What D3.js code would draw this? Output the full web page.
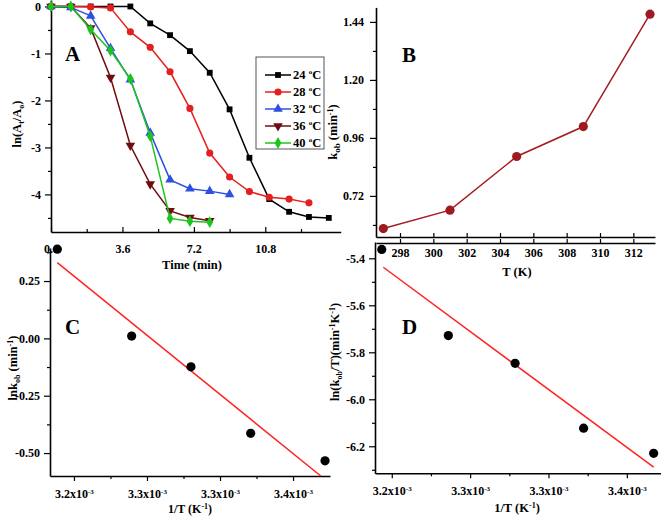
<!DOCTYPE html>
<html><head><meta charset="utf-8">
<script src="https://cdn.jsdelivr.net/npm/d3@7"></script>
<style>
html,body{margin:0;padding:0;background:#fff;}
svg{display:block;font-family:"Liberation Serif","Times New Roman",serif;font-weight:bold;}
</style></head>
<body>
<svg id="c" width="661" height="518"></svg>
<script>
// ---------- DATA ----------
// Panel A: ln(At/Ao) vs time (min)
const legendA = ["24", "28", "32", "36", "40"];
const timeA = [0,1,2,3,4,5,6,7,8,9,10,11,12,13,14];
const s24 = [0,0,0,0,0,-0.36,-0.61,-0.95,-1.41,-2.19,-3.22,-4.10,-4.37,-4.48,-4.50];
const s28 = [0,0,-0.01,-0.03,-0.54,-0.87,-1.39,-2.17,-3.12,-3.63,-3.94,-4.06,-4.10,-4.18];
const s32 = [0,-0.02,-0.20,-0.89,-1.56,-2.69,-3.69,-3.88,-3.93,-4.00];
const s36 = [0,0,-0.46,-1.51,-2.96,-3.78,-4.35,-4.49,-4.56];
const s40 = [0,0,-0.49,-0.94,-1.54,-2.76,-4.51,-4.57,-4.59];
const ticksAx = [0, 3.6, 7.2, 10.8];
const labelsAx = ["0.0", "3.6", "7.2", "10.8"];
const ticksAy = [0, -1, -2, -3, -4];
const labelsAy = ["0", "-1", "-2", "-3", "-4"];

// Panel B: kob vs T
const tempB = [297, 301, 305, 309, 313];
const kobB = [0.585, 0.661, 0.883, 1.007, 1.472];
const ticksBx = [298, 300, 302, 304, 306, 308, 310, 312];
const ticksBy = [0.72, 0.96, 1.20, 1.44];
const labelsBy = ["0.72", "0.96", "1.20", "1.44"];

// Panel C: ln kob vs 1/T (x in units of 1e-3)
const invTC = [3.1886, 3.2395, 3.2801, 3.3210, 3.3719];
const lnkC = [0.389, 0.010, -0.124, -0.414, -0.534];
const fitCx = [3.1886, 3.369];
const fitCy = [0.33, -0.60];
const ticksCy = [0.25, 0, -0.25, -0.5];
const labelsCy = ["0.25", "0.00", "-0.25", "-0.50"];

// Panel D: ln(kob/T) vs 1/T
const invTD = [3.1936, 3.2361, 3.2787, 3.3224, 3.3671];
const lnkTD = [-5.362, -5.729, -5.847, -6.123, -6.230];
const fitDx = [3.1946, 3.3671];
const fitDy = [-5.438, -6.289];
const ticksDy = [-5.4, -5.6, -5.8, -6.0, -6.2];
const labelsDy = ["-5.4", "-5.6", "-5.8", "-6.0", "-6.2"];

// shared 1/T ticks
const ticksInv = [3.20, 3.25, 3.30, 3.35];
const labelsInv = ["3.2", "3.3", "3.3", "3.4"];

// ---------- DRAW ----------
const svg = d3.select("#c");
const FS = 12;

function styleAxis(g){
  g.selectAll(".domain").attr("stroke","#000").attr("stroke-width",1.6);
  g.selectAll(".tick line").attr("stroke","#000").attr("stroke-width",1.2);
  g.selectAll("text").attr("font-family",'"Liberation Serif",serif').attr("font-weight","bold").attr("font-size",FS).attr("fill","#000");
}
function minorTicks(major){
  const out=[];
  for(let i=0;i<major.length-1;i++) out.push((major[i]+major[i+1])/2);
  return out;
}
function supLabel(sel, labels){
  sel.selectAll(".tick text").each(function(d,i){
    const t=d3.select(this); t.text(null);
    t.append("tspan").text(labels[i]+"x10");
    t.append("tspan").attr("dy",-4).attr("font-size",7).text("-3");
  });
}

// ===== Panel A =====
const xA = d3.scaleLinear().domain([0,14.6]).range([51,340.7]);
const yA = d3.scaleLinear().domain([-4.8,0.138]).range([232,0]);
{
  const g = svg.append("g");
  const ya = g.append("g").attr("transform",`translate(${xA.range()[0]},0)`)
    .call(d3.axisLeft(yA).tickValues(ticksAy).tickFormat((d,i)=>labelsAy[i]).tickSizeInner(6).tickSizeOuter(0).tickPadding(4));
  styleAxis(ya);
  const minorAy = [-0.5,-1.5,-2.5,-3.5,-4.5];
  const yam2 = g.append("g").attr("transform",`translate(${xA.range()[0]},0)`)
    .call(d3.axisLeft(yA).tickValues(minorAy).tickFormat("").tickSizeInner(3).tickSizeOuter(0));
  styleAxis(yam2); yam2.select(".domain").remove();
  const xa = g.append("g").attr("transform",`translate(0,${yA.range()[0]})`)
    .call(d3.axisBottom(xA).tickValues(ticksAx).tickFormat((d,i)=>labelsAx[i]).tickSizeInner(-5).tickSizeOuter(0).tickPadding(12));
  styleAxis(xa);
  const xam = g.append("g").attr("transform",`translate(0,${yA.range()[0]})`)
    .call(d3.axisBottom(xA).tickValues(minorTicks(ticksAx.concat([14.4]))).tickFormat("").tickSizeInner(-3).tickSizeOuter(0));
  styleAxis(xam); xam.select(".domain").remove();

  const series = [
    {v:s24,color:"#000000",sym:d3.symbolSquare,size:34},
    {v:s28,color:"#e41f1f",sym:d3.symbolCircle,size:40},
    {v:s32,color:"#2e50e0",sym:d3.symbolTriangle,size:40},
    {v:s36,color:"#6e0c12",sym:d3.symbolTriangle,size:40,rot:180},
    {v:s40,color:"#1ec41e",sym:d3.symbolDiamond,size:40}
  ];
  const line = d3.line().x((d,i)=>xA(timeA[i])).y(d=>yA(d));
  series.forEach(s=>{
    g.append("path").attr("d",line(s.v)).attr("fill","none").attr("stroke",s.color).attr("stroke-width",1.5);
    g.selectAll(null).data(s.v).enter().append("path")
      .attr("d",d3.symbol().type(s.sym).size(s.size))
      .attr("transform",(d,i)=>`translate(${xA(timeA[i])},${yA(d)}) rotate(${s.rot||0})`)
      .attr("fill",s.color);
  });
  const lg = g.append("g");
  lg.append("rect").attr("x",256).attr("y",57).attr("width",68).attr("height",92)
    .attr("fill","#fff").attr("stroke","#555").attr("stroke-width",1);
  series.forEach((s,i)=>{
    const yy = 75 + i*17;
    lg.append("line").attr("x1",265).attr("x2",291).attr("y1",yy).attr("y2",yy).attr("stroke",s.color).attr("stroke-width",1.5);
    lg.append("path").attr("d",d3.symbol().type(s.sym).size(s.size)).attr("transform",`translate(278,${yy}) rotate(${s.rot||0})`).attr("fill",s.color);
    const t = lg.append("text").attr("x",293).attr("y",yy+4).attr("font-size",12.5);
    t.append("tspan").text(legendA[i]+" ");
    t.append("tspan").attr("dy",-5).attr("font-size",7).text("o");
    t.append("tspan").attr("dy",5).text("C");
  });
  g.append("text").attr("x",65).attr("y",61).attr("font-size",21).text("A");
  const yl = g.append("text").attr("transform","translate(21,124) rotate(-90)").attr("text-anchor","middle").attr("font-size",12.5);
  yl.append("tspan").text("ln(A");
  yl.append("tspan").attr("dy",3).attr("font-size",8).text("t");
  yl.append("tspan").attr("dy",-3).text("/A");
  yl.append("tspan").attr("dy",3).attr("font-size",8).text("o");
  yl.append("tspan").attr("dy",-3).text(")");
  g.append("text").attr("x",192).attr("y",269).attr("text-anchor","middle").attr("font-size",12.5).text("Time (min)");
}

// ===== Panel B =====
const xB = d3.scaleLinear().domain([296.56,313.3]).range([376,655]);
const yB = d3.scaleLinear().domain([0.55,1.5]).range([237,7.4]);
{
  const g = svg.append("g");
  const ya = g.append("g").attr("transform",`translate(376,0)`)
    .call(d3.axisLeft(yB).tickValues(ticksBy).tickFormat((d,i)=>labelsBy[i]).tickSizeInner(6).tickSizeOuter(0).tickPadding(6));
  styleAxis(ya);
  const yam = g.append("g").attr("transform",`translate(376,0)`)
    .call(d3.axisLeft(yB).tickValues([0.60,0.84,1.08,1.32]).tickFormat("").tickSizeInner(3).tickSizeOuter(0));
  styleAxis(yam); yam.select(".domain").remove();
  const xf = g.append("g").attr("transform",`translate(0,237)`)
    .call(d3.axisBottom(xB).tickValues(ticksBx).tickFormat("").tickSizeInner(-4).tickSizeOuter(0));
  styleAxis(xf);
  const xa = g.append("g").attr("transform",`translate(0,243)`)
    .call(d3.axisBottom(xB).tickValues(ticksBx).tickFormat(d3.format("d")).tickSizeInner(-4).tickSizeOuter(0).tickPadding(5));
  styleAxis(xa);
  const line = d3.line().x((d,i)=>xB(tempB[i])).y(d=>yB(d));
  g.append("path").attr("d",line(kobB)).attr("fill","none").attr("stroke","#a51c24").attr("stroke-width",1.5);
  g.selectAll(null).data(kobB).enter().append("circle")
    .attr("cx",(d,i)=>xB(tempB[i])).attr("cy",d=>yB(d)).attr("r",4.6).attr("fill","#9e1a20");
  g.append("text").attr("x",402).attr("y",62).attr("font-size",21).text("B");
  const yl = g.append("text").attr("transform","translate(337,132) rotate(-90)").attr("text-anchor","middle").attr("font-size",12.5);
  yl.append("tspan").text("k");
  yl.append("tspan").attr("dy",3).attr("font-size",9).text("ob");
  yl.append("tspan").attr("dy",-3).text(" (min");
  yl.append("tspan").attr("dy",-4).attr("font-size",8).text("-1");
  yl.append("tspan").attr("dy",4).text(")");
  g.append("text").attr("x",517).attr("y",276).attr("text-anchor","middle").attr("font-size",12.5).text("T (K)");
}

// ===== Panel C =====
const xC = d3.scaleLinear().domain([3.1836,3.3753]).range([50,330]);
const yC = d3.scaleLinear().domain([-0.6,0.394]).range([476,248]);
{
  const g = svg.append("g");
  const ya = g.append("g").attr("transform",`translate(50,0)`)
    .call(d3.axisLeft(yC).tickValues(ticksCy).tickFormat((d,i)=>labelsCy[i]).tickSizeInner(6).tickSizeOuter(0).tickPadding(4));
  styleAxis(ya);
  const yam = g.append("g").attr("transform",`translate(50,0)`)
    .call(d3.axisLeft(yC).tickValues([0.375,0.125,-0.125,-0.375]).tickFormat("").tickSizeInner(3).tickSizeOuter(0));
  styleAxis(yam); yam.select(".domain").remove();
  const xa = g.append("g").attr("transform",`translate(0,476)`)
    .call(d3.axisBottom(xC).tickValues(ticksInv).tickSizeInner(5).tickSizeOuter(0).tickPadding(8));
  styleAxis(xa); supLabel(xa, labelsInv);
  const xam = g.append("g").attr("transform",`translate(0,476)`)
    .call(d3.axisBottom(xC).tickValues([3.225,3.275,3.325]).tickFormat("").tickSizeInner(3).tickSizeOuter(0));
  styleAxis(xam); xam.select(".domain").remove();
  g.append("line").attr("x1",xC(fitCx[0])).attr("y1",yC(fitCy[0])).attr("x2",xC(fitCx[1])).attr("y2",yC(fitCy[1]))
    .attr("stroke","#ff2424").attr("stroke-width",1.5);
  g.selectAll(null).data(lnkC).enter().append("circle")
    .attr("cx",(d,i)=>xC(invTC[i])).attr("cy",d=>yC(d)).attr("r",4.6).attr("fill","#000");
  g.append("text").attr("x",65).attr("y",334).attr("font-size",21).text("C");
  const yl = g.append("text").attr("transform","translate(17,368) rotate(-90)").attr("text-anchor","middle").attr("font-size",12.5);
  yl.append("tspan").text("lnk");
  yl.append("tspan").attr("dy",3).attr("font-size",8).text("ob");
  yl.append("tspan").attr("dy",-3).text(" (min");
  yl.append("tspan").attr("dy",-4).attr("font-size",8).text("-1");
  yl.append("tspan").attr("dy",4).text(")");
  const xl = g.append("text").attr("x",190).attr("y",513).attr("text-anchor","middle").attr("font-size",12);
  xl.append("tspan").text("1/T (K");
  xl.append("tspan").attr("dy",-4).attr("font-size",8).text("-1");
  xl.append("tspan").attr("dy",4).text(")");
}

// ===== Panel D =====
const xD = d3.scaleLinear().domain([3.1893,3.3820]).range([375,677]);
const yD = d3.scaleLinear().domain([-6.315,-5.3306]).range([473.3,242]);
{
  const g = svg.append("g");
  const ya = g.append("g").attr("transform",`translate(375,0)`)
    .call(d3.axisLeft(yD).tickValues(ticksDy).tickFormat((d,i)=>labelsDy[i]).tickSizeInner(6).tickSizeOuter(0).tickPadding(4));
  styleAxis(ya);
  const yam = g.append("g").attr("transform",`translate(375,0)`)
    .call(d3.axisLeft(yD).tickValues([-5.5,-5.7,-5.9,-6.1,-6.3]).tickFormat("").tickSizeInner(3).tickSizeOuter(0));
  styleAxis(yam); yam.select(".domain").remove();
  const xa = g.append("g").attr("transform",`translate(0,473.3)`)
    .call(d3.axisBottom(xD).tickValues(ticksInv).tickSizeInner(5).tickSizeOuter(0).tickPadding(8));
  styleAxis(xa); supLabel(xa, labelsInv);
  const xam = g.append("g").attr("transform",`translate(0,473.3)`)
    .call(d3.axisBottom(xD).tickValues([3.225,3.275,3.325]).tickFormat("").tickSizeInner(3).tickSizeOuter(0));
  styleAxis(xam); xam.select(".domain").remove();
  g.append("line").attr("x1",xD(fitDx[0])).attr("y1",yD(fitDy[0])).attr("x2",xD(fitDx[1])).attr("y2",yD(fitDy[1]))
    .attr("stroke","#ff2424").attr("stroke-width",1.5);
  g.selectAll(null).data(lnkTD).enter().append("circle")
    .attr("cx",(d,i)=>xD(invTD[i])).attr("cy",d=>yD(d)).attr("r",4.6).attr("fill","#000");
  g.append("text").attr("x",402).attr("y",334).attr("font-size",21).text("D");
  const yl = g.append("text").attr("transform","translate(339,352) rotate(-90)").attr("text-anchor","middle").attr("font-size",12.5);
  yl.append("tspan").text("ln(k");
  yl.append("tspan").attr("dy",3).attr("font-size",8).text("ob");
  yl.append("tspan").attr("dy",-3).text("/T)(min");
  yl.append("tspan").attr("dy",-4).attr("font-size",8).text("-1");
  yl.append("tspan").attr("dy",4).text("K");
  yl.append("tspan").attr("dy",-4).attr("font-size",8).text("-1");
  yl.append("tspan").attr("dy",4).text(")");
  const xl = g.append("text").attr("x",517).attr("y",512).attr("text-anchor","middle").attr("font-size",12.5);
  xl.append("tspan").text("1/T (K");
  xl.append("tspan").attr("dy",-4).attr("font-size",8).text("-1");
  xl.append("tspan").attr("dy",4).text(")");
}
</script>
</body></html>
